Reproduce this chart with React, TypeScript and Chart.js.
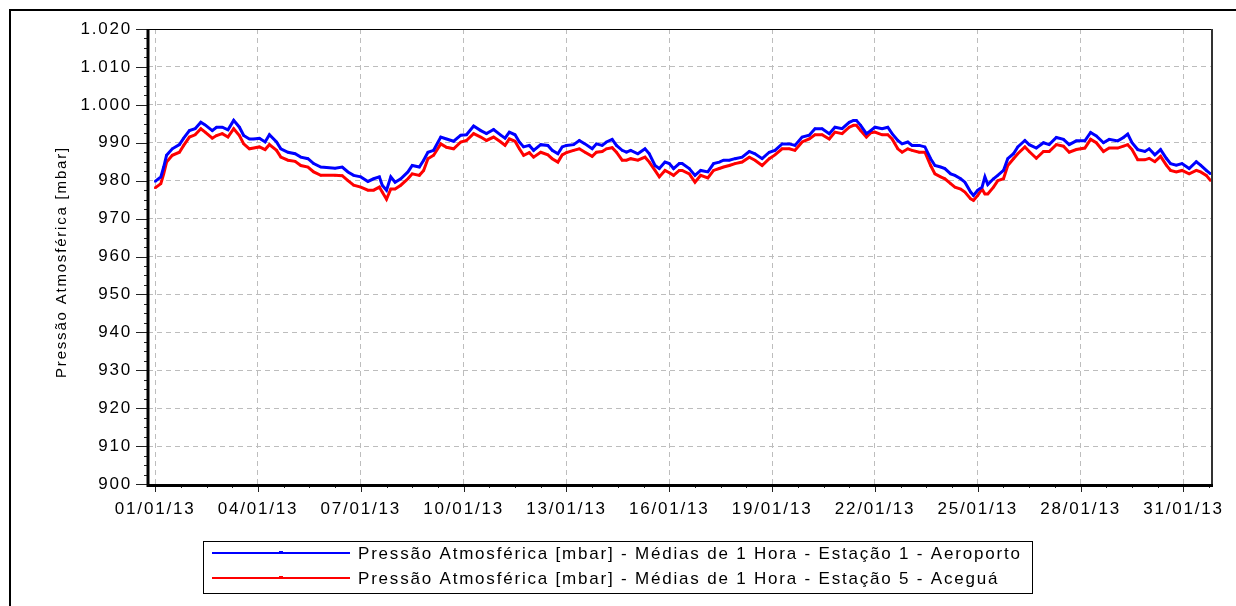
import React, { useEffect, useRef } from 'react';
import { Chart, registerables } from 'chart.js';

Chart.register(...registerables);

// Hours since 01/01/13 00:00
const hours = [
  0, 4, 6, 8, 12, 17, 20, 24, 28, 32, 35, 40, 43, 47, 51, 55, 59, 62, 66, 69, 73, 77, 80, 85, 88, 93, 98, 102, 107, 111, 116,
  126, 131, 135, 139, 144, 149, 153, 157, 159, 162, 165, 168, 172, 177, 180, 185, 188, 191, 195, 200, 204, 209, 214, 218, 223, 228, 232, 237, 242, 245,
  248, 252, 255, 258, 262, 265, 270, 275, 278, 282, 285, 288, 293, 297, 301, 306, 309, 313, 316, 320, 323, 327, 330, 333, 338, 343, 346, 350, 353, 357, 360, 363, 367,
  369, 374, 378, 382, 387, 391, 395, 398, 402, 406, 411, 416, 420, 425, 430, 434, 439, 444, 448, 453, 458, 462, 467, 472, 476, 481, 486, 489,
  491, 494, 498, 501, 504, 509, 513, 516, 520, 523, 527, 530, 535, 539, 543, 546, 550, 553, 557, 560, 564, 567, 571, 573, 576, 579, 581, 583, 587, 590, 594, 597, 601, 604, 609,
  612, 617, 622, 626, 631, 636, 640, 645, 651, 655, 659, 664, 668, 674, 678, 681, 684, 688, 693, 696, 700, 704, 708, 711, 715, 719, 724, 729, 732, 736, 739,
];

const aeroporto = [
  979.8, 981.0, 983.6, 986.7, 988.4, 989.5, 991.2, 993.2, 993.7, 995.4, 994.7, 993.2, 994.1, 994.1, 993.4, 995.9, 994.1, 991.9, 991.0, 991.0, 991.2, 990.2, 992.1, 990.2, 988.4, 987.5, 987.1, 986.2, 985.8, 984.5, 983.6,
  983.3, 983.6, 982.3, 981.4, 981.0, 979.8, 980.5, 981.0, 978.8, 977.5, 981.0, 979.6, 980.5, 982.3, 984.0, 983.6, 985.4, 987.5, 988.0, 991.5, 991.0, 990.4, 992.0, 992.1, 994.4, 993.2, 992.4, 993.5, 992.0, 991.2,
  992.8, 992.1, 990.2, 988.9, 989.3, 988.0, 989.5, 989.3, 988.0, 987.1, 988.9, 989.3, 989.5, 990.6, 989.7, 988.4, 989.7, 989.3, 990.2, 990.9, 989.3, 988.0, 987.5, 988.0, 987.1, 988.4, 987.1, 984.0, 983.2, 984.9, 984.5, 983.2, 984.5,
  984.5, 983.2, 981.4, 982.7, 982.3, 984.5, 984.9, 985.4, 985.4, 985.8, 986.2, 987.7, 987.1, 985.8, 987.5, 988.0, 989.7, 989.7, 989.3, 991.5, 992.0, 993.7, 993.7, 992.4, 994.1, 993.7, 995.4, 995.9,
  995.9, 994.6, 992.4, 993.2, 994.1, 993.7, 994.1, 992.4, 990.6, 989.7, 990.2, 989.3, 989.3, 988.9, 985.8, 984.0, 983.6, 983.2, 981.8, 981.4, 980.5, 979.6, 977.0, 976.1, 977.5, 978.3, 981.0, 979.0, 980.5, 981.4, 982.7, 985.8, 987.1, 988.9, 990.6,
  989.5, 988.6, 990.0, 989.5, 991.4, 990.9, 989.5, 990.5, 990.5, 992.7, 991.8, 990.0, 990.9, 990.5, 991.4, 992.3, 990.0, 988.2, 987.7, 988.4, 986.8, 988.2, 985.9, 984.5, 984.1, 984.5, 983.2, 985.0, 984.1, 982.7, 981.8,
];

const acegua = [
  978.1, 979.2, 981.8, 984.9, 986.7, 987.5, 989.3, 991.5, 992.1, 993.7, 992.8, 991.2, 991.9, 992.4, 991.5, 993.7, 991.9, 989.7, 988.4, 988.6, 988.9, 988.2, 989.5, 988.0, 986.2, 985.4, 985.1, 984.0, 983.6, 982.3, 981.4,
  981.4, 981.3, 980.0, 978.8, 978.3, 977.5, 977.5, 978.3, 977.0, 975.1, 977.8, 977.8, 978.8, 980.5, 981.8, 981.4, 982.7, 985.8, 986.7, 989.7, 988.8, 988.4, 990.2, 990.6, 992.4, 991.5, 990.6, 991.5, 990.2, 989.3,
  991.0, 990.4, 988.4, 986.7, 987.4, 986.2, 987.5, 986.8, 985.8, 984.9, 986.8, 987.4, 988.0, 988.4, 987.5, 986.4, 987.5, 987.7, 988.4, 988.7, 987.5, 985.4, 985.4, 985.8, 985.4, 986.2, 984.9, 982.7, 981.0, 982.7, 982.1, 981.4, 982.7,
  982.7, 981.8, 979.6, 981.4, 980.7, 982.7, 983.2, 983.6, 984.0, 984.5, 984.9, 986.2, 985.4, 984.0, 985.8, 986.8, 988.4, 988.4, 988.0, 990.2, 991.0, 992.1, 992.1, 991.0, 992.8, 992.4, 994.1, 994.6,
  994.6, 993.2, 991.5, 992.6, 992.8, 992.1, 992.1, 991.0, 988.4, 987.5, 988.4, 988.0, 987.5, 987.5, 984.0, 981.8, 981.0, 980.5, 979.2, 978.3, 977.8, 977.0, 975.2, 974.8, 976.1, 977.8, 976.5, 976.5, 978.3, 980.0, 980.5, 984.0, 985.8, 987.1, 988.9,
  987.7, 985.9, 987.7, 987.7, 989.5, 989.1, 987.5, 988.2, 988.6, 990.9, 990.0, 987.7, 988.6, 988.6, 989.1, 989.5, 988.2, 985.5, 985.5, 985.9, 985.0, 986.4, 984.1, 982.7, 982.3, 982.7, 981.8, 982.7, 982.3, 981.4, 980.0,
];

const dateLabels = [
  '01/01/13', '04/01/13', '07/01/13', '10/01/13', '13/01/13', '16/01/13',
  '19/01/13', '22/01/13', '25/01/13', '28/01/13', '31/01/13',
];

const seriesNames = [
  'Pressão Atmosférica [mbar] - Médias de 1 Hora - Estação 1 - Aeroporto',
  'Pressão Atmosférica [mbar] - Médias de 1 Hora - Estação 5 - Aceguá',
];
const seriesColors = ['#0000ff', '#ff0000'];
const yAxisTitle = 'Pressão Atmosférica [mbar]';

const Y_MIN = 900;
const Y_MAX = 1020;
const Y_MAJOR = 10;
const Y_MINOR = 2.5;
const X_MIN = -5;
const X_MAX = 740;
const X_MAJOR = 72;
const X_MINOR = 18;

const FONT_FAMILY = '"Liberation Sans", Arial, sans-serif';
const LETTER_SPACING = '1.8px';

function fmtY(v: number): string {
  if (v >= 1000) {
    const th = Math.floor(v / 1000);
    const rest = Math.round(v % 1000);
    return `${th}.${String(rest).padStart(3, '0')}`;
  }
  return String(Math.round(v));
}

function buildTicks(from: number, to: number, step: number): number[] {
  const out: number[] = [];
  for (let v = from; v <= to + 1e-9; v += step) out.push(Math.round(v * 100) / 100);
  return out;
}

const xTickValues = buildTicks(0, X_MAX - 2, X_MINOR);
const yTickValues = buildTicks(Y_MIN, Y_MAX, Y_MINOR);

const isMajorX = (v: number) => Math.abs(v % X_MAJOR) < 1e-6;
const isMajorY = (v: number) => Math.abs(v % Y_MAJOR) < 1e-6;

const framePlugin = {
  id: 'framePlugin',
  beforeUpdate(chart: any) {
    chart.ctx.letterSpacing = LETTER_SPACING;
  },
  beforeDraw(chart: any) {
    const ctx = chart.ctx;
    ctx.save();
    ctx.fillStyle = '#ffffff';
    ctx.fillRect(0, 0, chart.width, chart.height);
    ctx.restore();
    ctx.letterSpacing = LETTER_SPACING;
  },
  afterDraw(chart: any) {
    const ctx = chart.ctx;
    const { left, right, top, bottom } = chart.chartArea;
    const xs = chart.scales.x;
    const ys = chart.scales.y;
    ctx.save();
    ctx.strokeStyle = '#000000';
    ctx.lineCap = 'butt';

    // outer frame
    ctx.lineWidth = 2;
    ctx.beginPath();
    ctx.moveTo(10, chart.height);
    ctx.lineTo(10, 10);
    ctx.lineTo(chart.width, 10);
    ctx.stroke();

    // tick marks
    ctx.lineWidth = 1;
    ctx.strokeStyle = '#222222';
    ctx.beginPath();
    xTickValues.forEach((v) => {
      const px = Math.round(xs.getPixelForValue(v)) + 0.5;
      const len = isMajorX(v) ? 8 : 4;
      ctx.moveTo(px, bottom);
      ctx.lineTo(px, bottom + len);
    });
    yTickValues.forEach((v) => {
      const py = Math.round(ys.getPixelForValue(v)) + 0.5;
      const len = isMajorY(v) ? 12 : 4;
      ctx.moveTo(left - len, py);
      ctx.lineTo(left, py);
    });
    ctx.stroke();

    // plot frame
    ctx.strokeStyle = '#000000';
    ctx.lineWidth = 1;
    ctx.beginPath();
    ctx.moveTo(left, top + 0.5);
    ctx.lineTo(right, top + 0.5);
    ctx.stroke();
    ctx.lineWidth = 2;
    ctx.strokeStyle = '#333333';
    ctx.beginPath();
    ctx.moveTo(right, top);
    ctx.lineTo(right, bottom);
    ctx.stroke();
    ctx.strokeStyle = '#000000';
    ctx.lineWidth = 3;
    ctx.beginPath();
    ctx.moveTo(left, top);
    ctx.lineTo(left, bottom + 1.5);
    ctx.lineTo(right + 1, bottom + 1.5);
    ctx.stroke();

    // y-axis title
    ctx.save();
    ctx.font = `15px ${FONT_FAMILY}`;
    ctx.letterSpacing = LETTER_SPACING;
    ctx.fillStyle = '#000000';
    ctx.textAlign = 'center';
    ctx.textBaseline = 'middle';
    ctx.translate(62, 262);
    ctx.rotate(-Math.PI / 2);
    ctx.fillText(yAxisTitle, 0, 0);
    ctx.restore();

    // legend
    const bx = 203.5, by = 541.5, bw = 829, bh = 52;
    ctx.lineWidth = 1;
    ctx.strokeStyle = '#000000';
    ctx.strokeRect(bx, by, bw, bh);
    ctx.font = `17px ${FONT_FAMILY}`;
    ctx.letterSpacing = LETTER_SPACING;
    ctx.textBaseline = 'middle';
    ctx.textAlign = 'left';
    chart.data.datasets.forEach((ds: any, i: number) => {
      const y = 553 + i * 25;
      ctx.strokeStyle = seriesColors[i];
      ctx.lineWidth = 2;
      ctx.beginPath();
      ctx.moveTo(212, y);
      ctx.lineTo(350, y);
      ctx.stroke();
      ctx.fillStyle = seriesColors[i];
      ctx.fillRect(279, y - 2, 4, 3);
      ctx.fillStyle = '#000000';
      ctx.fillText(ds.label, 358, y + 1);
    });
    ctx.restore();
  },
};

export default function App() {
  const canvasRef = useRef<HTMLCanvasElement | null>(null);

  useEffect(() => {
    if (!canvasRef.current) return;
    const tickFont = { family: FONT_FAMILY, size: 17 };
    const makeDataset = (i: number, values: number[]) => ({
      label: seriesNames[i],
      data: hours.map((h, k) => ({ x: h, y: values[k] })),
      borderColor: seriesColors[i],
      backgroundColor: seriesColors[i],
      borderWidth: 3,
      pointStyle: 'rect',
      pointRadius: 1.5,
      pointBorderWidth: 0,
      tension: 0,
      fill: false,
    });
    const chart = new Chart(canvasRef.current, {
      type: 'line',
      data: {
        datasets: [makeDataset(0, aeroporto), makeDataset(1, acegua)],
      },
      options: {
        responsive: false,
        maintainAspectRatio: false,
        animation: false,
        events: [],
        layout: { padding: { top: 29, right: 24, left: 0, bottom: 0 } },
        plugins: {
          legend: { display: false },
          tooltip: { enabled: false },
        },
        scales: {
          x: {
            type: 'linear',
            min: X_MIN,
            max: X_MAX,
            afterBuildTicks: (scale: any) => {
              scale.ticks = xTickValues.map((v) => ({ value: v }));
            },
            afterFit: (scale: any) => {
              scale.height = 122;
            },
            grid: {
              drawTicks: false,
              lineWidth: 1,
              color: (c: any) => (c.tick && isMajorX(c.tick.value) ? '#bdbdbd' : 'rgba(0,0,0,0)'),
            },
            border: { display: false, dash: [5, 4] },
            ticks: {
              autoSkip: false,
              maxRotation: 0,
              minRotation: 0,
              padding: 15,
              color: '#000000',
              font: tickFont,
              callback: (value: any) => {
                const v = Number(value);
                if (!isMajorX(v)) return '';
                return dateLabels[Math.round(v / X_MAJOR)] ?? '';
              },
            },
          },
          y: {
            type: 'linear',
            min: Y_MIN,
            max: Y_MAX,
            afterBuildTicks: (scale: any) => {
              scale.ticks = yTickValues.map((v) => ({ value: v }));
            },
            afterFit: (scale: any) => {
              scale.width = 148;
            },
            grid: {
              drawTicks: false,
              lineWidth: 1,
              color: (c: any) => (c.tick && isMajorY(c.tick.value) ? '#bdbdbd' : 'rgba(0,0,0,0)'),
            },
            border: { display: false, dash: [5, 4] },
            ticks: {
              autoSkip: false,
              padding: 16,
              color: '#000000',
              font: tickFont,
              callback: (value: any) => {
                const v = Number(value);
                return isMajorY(v) ? fmtY(v) : '';
              },
            },
          },
        },
      },
      plugins: [framePlugin],
    } as any);
    return () => chart.destroy();
  }, []);

  return (
    <div style={{ position: 'fixed', left: 0, top: 0, width: 1236, height: 606, background: '#fff' }}>
      <canvas ref={canvasRef} width={1236} height={606} style={{ display: 'block' }} />
    </div>
  );
}
